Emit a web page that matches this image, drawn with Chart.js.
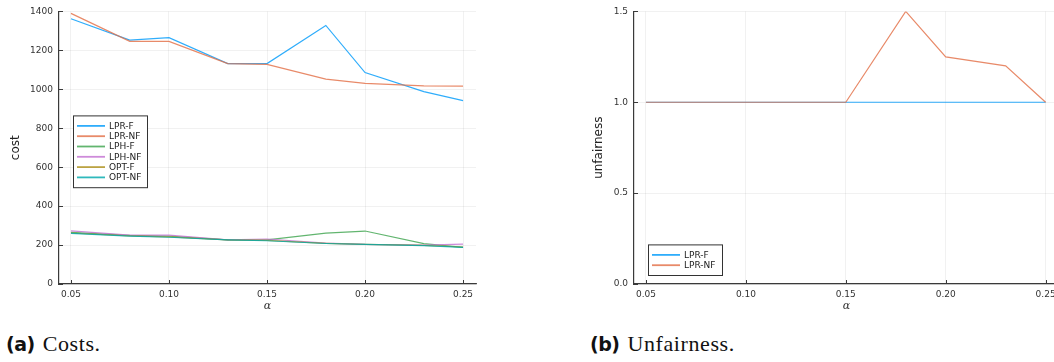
<!DOCTYPE html>
<html>
<head>
<meta charset="utf-8">
<script src="https://cdn.jsdelivr.net/npm/chart.js@4"></script>
<style>
  html, body { margin: 0; padding: 0; background: #fff; }
  body { width: 1054px; height: 362px; overflow: hidden; position: relative; }
  .panel { position: absolute; top: 0; }
  .caption { position: absolute; top: 331px; font-family: "Liberation Serif", serif; font-size: 22px; color: #111; white-space: nowrap; letter-spacing: 0.6px; }
  .caption b { font-family: "DejaVu Sans", sans-serif; font-size: 19px; font-weight: bold; letter-spacing: -0.5px; margin-right: 8px; }
</style>
</head>
<body>
<div class="panel" style="left:0;width:500px;height:318px"><canvas id="costChart" width="500" height="318"></canvas></div>
<div class="panel" style="left:540px;width:525px;height:318px"><canvas id="unfairChart" width="525" height="318"></canvas></div>
<div class="caption" style="left:6px"><b>(a)</b>Costs.</div>
<div class="caption" style="left:590px"><b>(b)</b>Unfairness.</div>

<script>
// Data
const alphas = [0.05, 0.08, 0.10, 0.13, 0.15, 0.18, 0.20, 0.23, 0.25];
const alphaTicks = [0.05, 0.10, 0.15, 0.20, 0.25];
const costTicks = [0, 200, 400, 600, 800, 1000, 1200, 1400];
const unfairTicks = [0, 0.5, 1.0, 1.5];

const costLabels = ["LPR-F", "LPR-NF", "LPH-F", "LPH-NF", "OPT-F", "OPT-NF"];
const lprF = [1362, 1253, 1265, 1132, 1132, 1328, 1086, 988, 942];
const lprNF = [1390, 1246, 1246, 1132, 1128, 1052, 1030, 1018, 1016];
const lphF = [265, 250, 246, 227, 227, 261, 272, 207, 188];
const lphNF = [273, 251, 251, 227, 231, 210, 203, 200, 205];
const optF = [262, 247, 242, 227, 224, 209, 203, 198, 190];
const optNF = [260, 246, 240, 227, 222, 208, 203, 197, 188];

const unfairLabels = ["LPR-F", "LPR-NF"];
const unfairF = [1, 1, 1, 1, 1, 1, 1, 1, 1];
const unfairNF = [1, 1, 1, 1, 1, 1.5, 1.25, 1.2, 1.0];

const palette = ["#009afa", "#e36f47", "#3ea44e", "#c371d2", "#ac8e18", "#00a9ad"];

const FONT = '"DejaVu Sans", sans-serif';
const AXIS = "#3a3a3a";

function toPoints(vals) {
  return alphas.map((a, i) => ({ x: a, y: vals[i] }));
}

function makeDatasets(labels, series) {
  return labels.map((label, i) => ({
    label,
    data: toPoints(series[i]),
    borderColor: palette[i] + "d0",
    borderWidth: 1.2,
    pointRadius: 0,
    tension: 0,
    order: labels.length - i
  }));
}

// legend box inside the plot, like Plots.jl
const insideLegend = {
  id: "insideLegend",
  afterDraw(chart, args, opts) {
    const ctx = chart.ctx;
    const area = chart.chartArea;
    const sets = chart.data.datasets;
    const x = area.left + opts.dx;
    const y = area.top + opts.dy;
    const w = 74, rowH = 10.3;
    const h = sets.length * rowH + 10;
    ctx.save();
    ctx.fillStyle = "#fff";
    ctx.fillRect(x, y, w, h);
    ctx.strokeStyle = "#333";
    ctx.lineWidth = 1;
    ctx.strokeRect(x + 0.5, y + 0.5, w, h);
    ctx.font = "9px " + FONT;
    ctx.textBaseline = "middle";
    sets.forEach((ds, i) => {
      const ry = y + 10.5 + i * rowH;
      ctx.strokeStyle = ds.borderColor;
      ctx.lineWidth = 1.8;
      ctx.beginPath();
      ctx.moveTo(x + 4, ry);
      ctx.lineTo(x + 32, ry);
      ctx.stroke();
      ctx.fillStyle = "#222";
      ctx.fillText(ds.label, x + 36, ry + 0.5);
    });
    ctx.restore();
  }
};

// short inward tick marks
const innerTicks = {
  id: "innerTicks",
  afterDatasetsDraw(chart) {
    const ctx = chart.ctx;
    const area = chart.chartArea;
    ctx.save();
    ctx.strokeStyle = AXIS;
    ctx.lineWidth = 1;
    const xs = chart.scales.x, ys = chart.scales.y;
    xs.ticks.forEach((t, i) => {
      const px = Math.round(xs.getPixelForTick(i)) + 0.5;
      ctx.beginPath();
      ctx.moveTo(px, area.bottom);
      ctx.lineTo(px, area.bottom - 4);
      ctx.stroke();
    });
    ys.ticks.forEach((t, i) => {
      const py = Math.round(ys.getPixelForTick(i)) + 0.5;
      ctx.beginPath();
      ctx.moveTo(area.left, py);
      ctx.lineTo(area.left + 4, py);
      ctx.stroke();
    });
    ctx.restore();
  }
};

function makeChart(canvasId, labels, series, cfg) {
  return new Chart(document.getElementById(canvasId), {
    type: "line",
    data: { datasets: makeDatasets(labels, series) },
    plugins: [innerTicks, insideLegend],
    options: {
      responsive: false,
      animation: false,
      events: [],
      layout: { padding: { left: 0, right: cfg.padRight, top: 10, bottom: 0 } },
      plugins: {
        legend: { display: false },
        tooltip: { enabled: false },
        insideLegend: { dx: cfg.legendDx, dy: cfg.legendDy }
      },
      scales: {
        x: {
          type: "linear",
          min: cfg.xMin,
          max: cfg.xMax,
          afterBuildTicks: s => { s.ticks = alphaTicks.map(v => ({ value: v })); },
          afterFit: s => { s.height = 34; },
          ticks: {
            font: { family: FONT, size: 9 },
            color: "#333",
            padding: 5,
            maxRotation: 0,
            callback: v => v.toFixed(2)
          },
          grid: { color: "rgba(0,0,0,0.07)", lineWidth: 0.8, drawTicks: false },
          border: { color: AXIS, width: 1.2 },
          title: {
            display: true,
            text: "α",
            font: { family: "DejaVu Serif", size: 11, style: "italic" },
            color: "#333",
            padding: { top: 0, bottom: 5 }
          }
        },
        y: {
          type: "linear",
          min: cfg.yMin,
          max: cfg.yMax,
          afterBuildTicks: s => { s.ticks = cfg.yTicks.map(v => ({ value: v })); },
          afterFit: s => { s.width = cfg.yWidth; },
          ticks: {
            font: { family: FONT, size: 9 },
            color: "#333",
            padding: 6,
            callback: cfg.yFormat
          },
          grid: { color: "rgba(0,0,0,0.07)", lineWidth: 0.8, drawTicks: false },
          border: { color: AXIS, width: 1.2 },
          title: {
            display: true,
            text: cfg.yTitle,
            font: { family: FONT, size: 12 },
            color: "#222",
            padding: { top: cfg.yTitlePad, bottom: 0 }
          }
        }
      }
    }
  });
}

makeChart("costChart", costLabels, [lprF, lprNF, lphF, lphNF, optF, optNF], {
  padRight: 24,
  xMin: 0.0439, xMax: 0.2566,
  yMin: 0, yMax: 1400,
  yTicks: costTicks,
  yFormat: v => String(v),
  yWidth: 59,
  yTitle: "cost",
  yTitlePad: 9,
  legendDx: 14, legendDy: 104
});

makeChart("unfairChart", unfairLabels, [unfairF, unfairNF], {
  padRight: 6,
  xMin: 0.044, xMax: 0.2567,
  yMin: 0, yMax: 1.5,
  yTicks: unfairTicks,
  yFormat: v => v.toFixed(1),
  yWidth: 94,
  yTitle: "unfairness",
  yTitlePad: 52,
  legendDx: 14, legendDy: 233
});
</script>
</body>
</html>
